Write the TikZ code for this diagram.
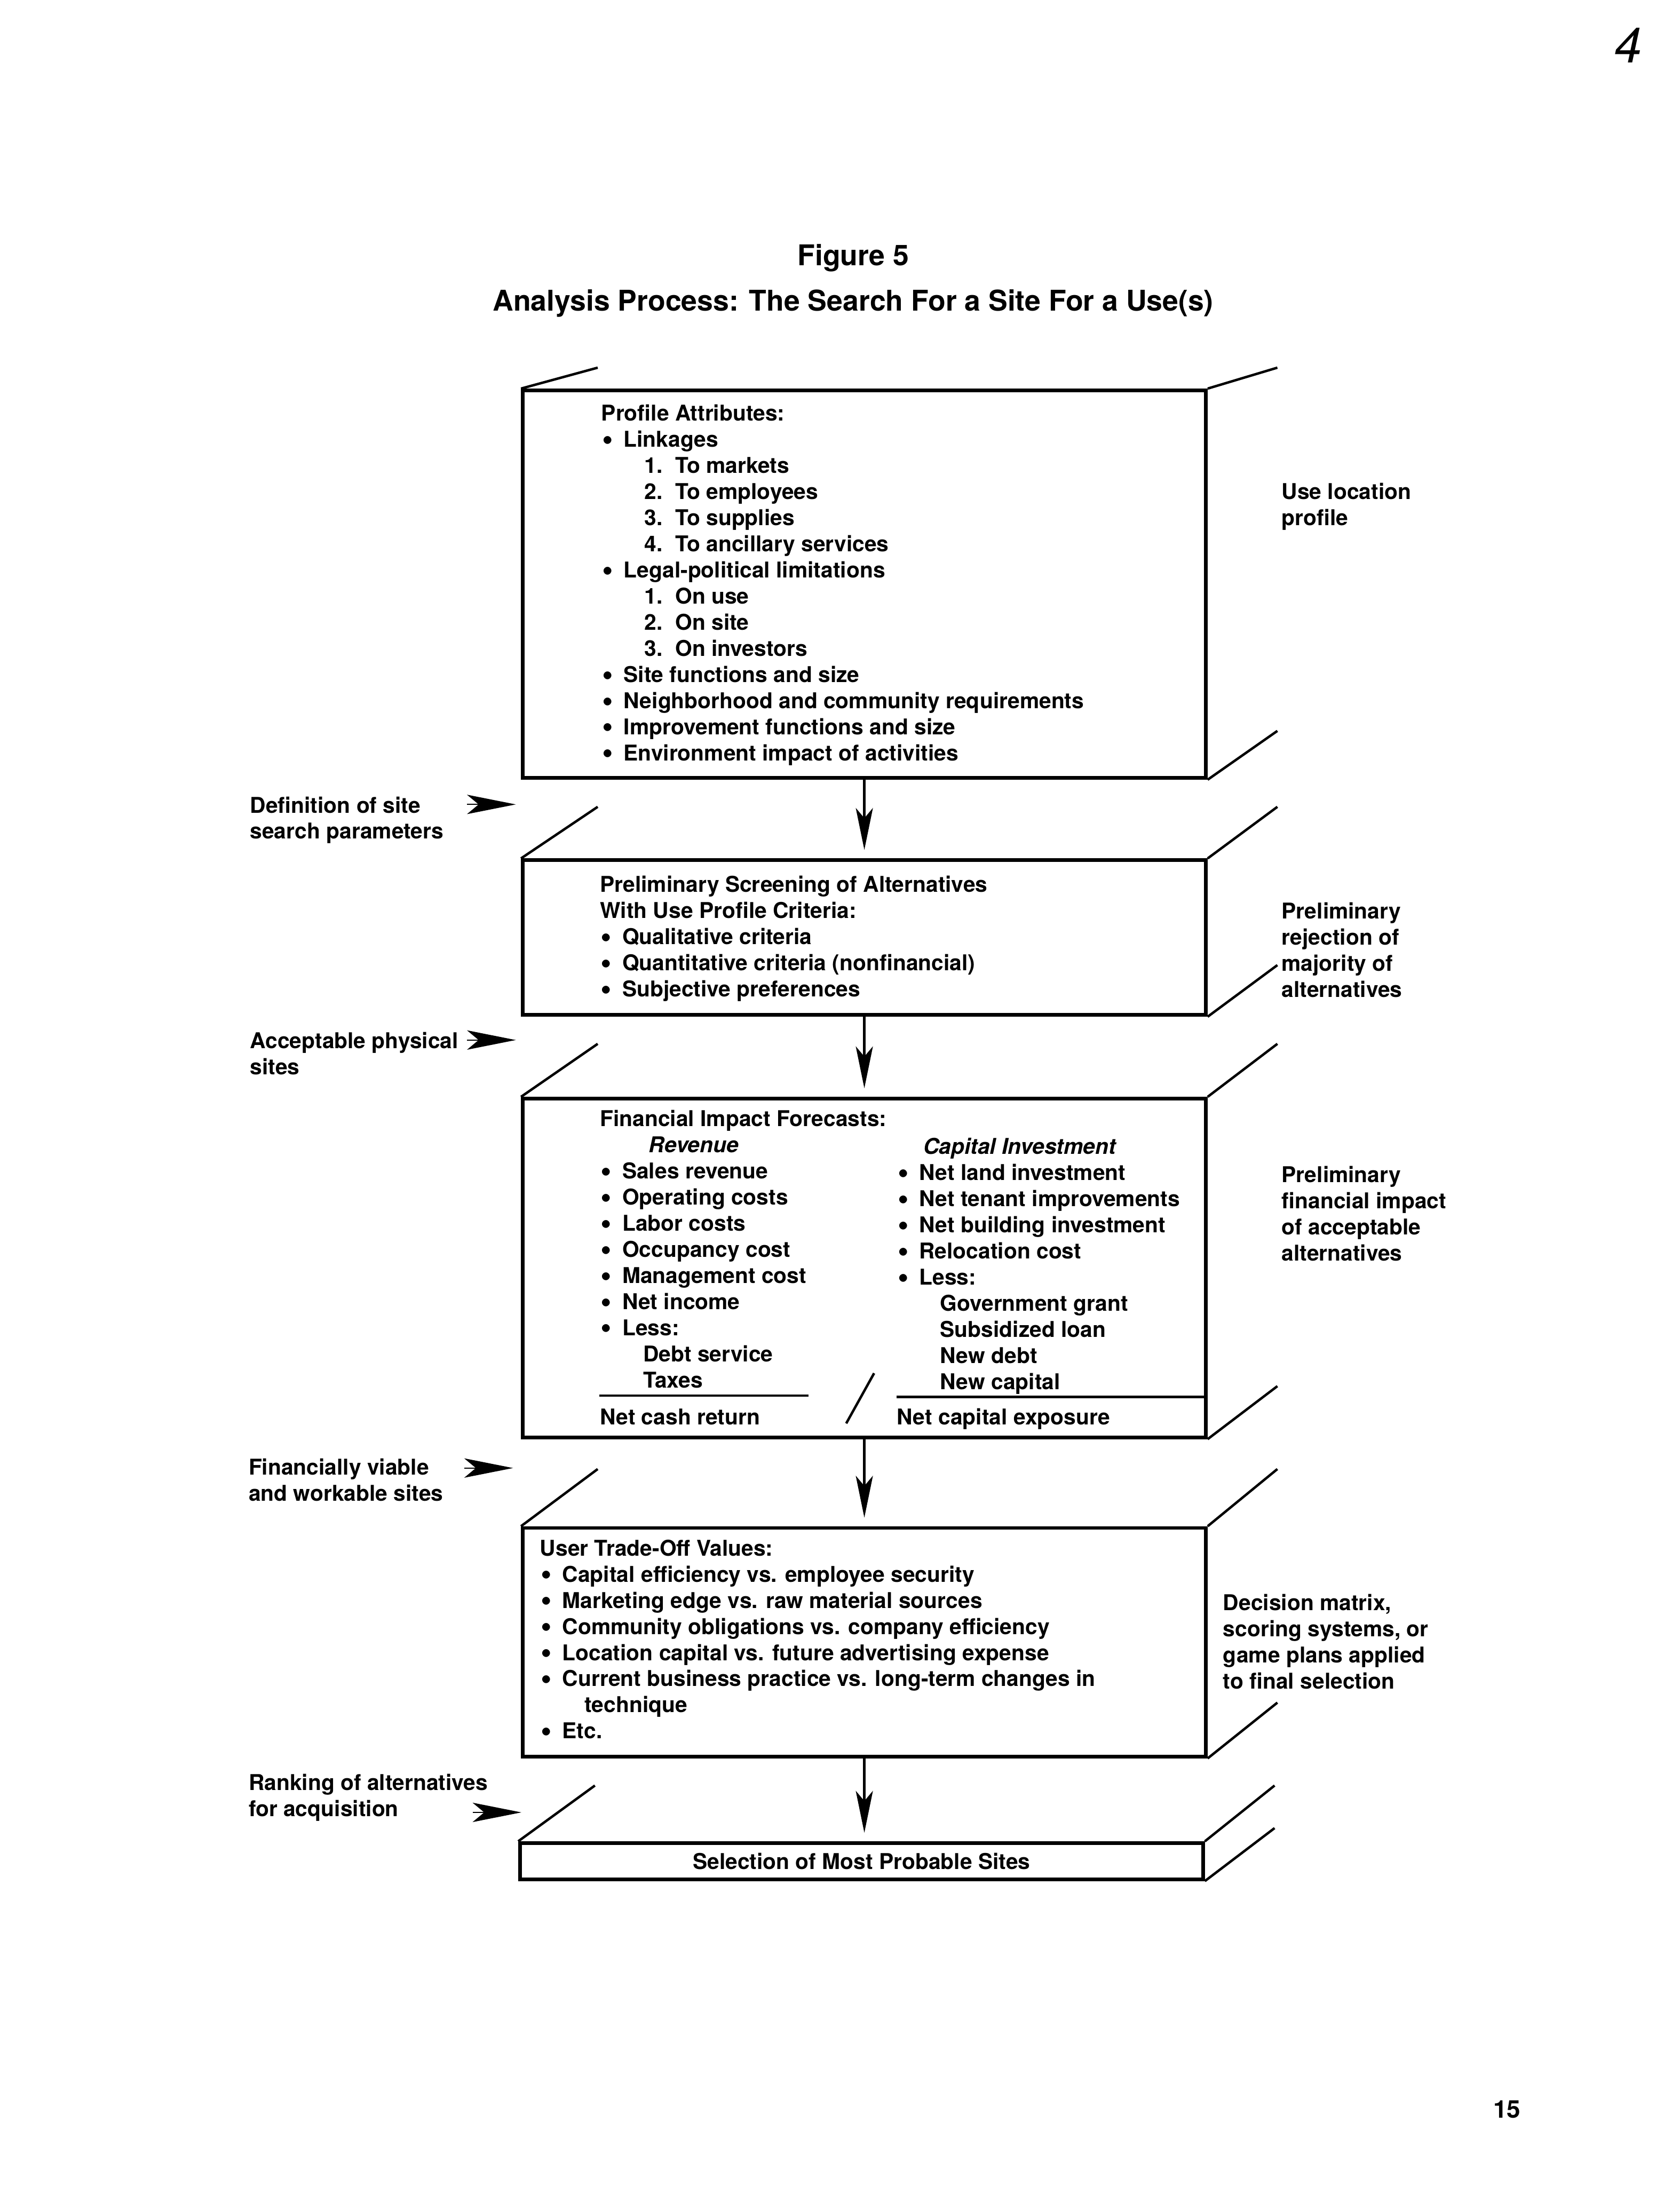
\documentclass[tikz,border=0pt]{standalone}
\usepackage{fontspec}
\setmainfont{TeX Gyre Heros}
\usetikzlibrary{arrows.meta}
\newlength\pu
\setlength\pu{0.018cm}
\newcommand\bul{\makebox[16\pu][l]{\hspace{0.5\pu}\raisebox{-0.9pt}{\fontsize{11.5}{9.6}\selectfont\textbullet}}}
\newcommand\ind[1][31]{\hspace*{#1\pu}}
\newcommand\nr[1]{\hspace*{31\pu}\makebox[22\pu][l]{#1}}
\begin{document}
\begin{tikzpicture}[x=0.018cm, y=-0.018cm,
  box/.style={draw, line width=1.3pt, rectangle, inner sep=0pt, minimum width=490*\pu},
  edge/.style={line width=0.9pt},
  flow/.style={line width=1pt, -{Stealth[length=0.54cm, width=0.22cm, inset=0.13cm]}, shorten >=0.11cm},
  pointer/.style={-{Stealth[length=0.63cm, width=0.25cm, inset=0.15cm]}},
  txt/.style={anchor=north west, inner sep=0pt, align=left, font=\fontsize{8}{9.6}\selectfont\bfseries},
  ttl/.style={anchor=base, inner sep=0pt, font=\fontsize{10.5}{12}\selectfont\bfseries}]
  \useasboundingbox (0,0) rectangle (1205,1568);
  % Heading
  \node[ttl] (fig) at (612,190.5) {Figure 5};
  \node[ttl] (head) at (612,223) {Analysis Process: The Search For a Site For a Use(s)};
  \node[anchor=base, inner sep=0pt, font=\fontsize{9}{11}\selectfont\bfseries] (page) at (1081,1519) {15};
  \node[anchor=base, inner sep=0pt, font=\fontsize{18}{20}\selectfont\itshape] (hand) at (1168,45) {4};
  % Boxes, front faces
  \node[box, minimum height=278*\pu] (b1) at (620,419) {};
  \node[box, minimum height=111*\pu] (b2) at (620,672.5) {};
  \node[box, minimum height=243*\pu] (b3) at (620,909.5) {};
  \node[box, minimum height=164*\pu] (b4) at (620,1178) {};
  \node[box, minimum height=26*\pu, font=\fontsize{8}{9.6}\selectfont\bfseries] (b5) at (618,1335) {Selection of Most Probable Sites};
  % Receding edges
  \foreach \b/\dt/\db in {b1/15/35, b2/37/37, b3/38/38, b4/41/40, b5/40/38}
    \draw[edge] (\b.north west) -- ++(55,-\dt) (\b.north east) -- ++(50,-\dt) (\b.south east) -- ++(50,-\db);
  % Flow between steps
  \draw[flow] (b1.south) -- (b2.north);
  \draw[flow] (b2.south) -- (b3.north);
  \draw[flow] (b3.south) -- (b4.north);
  \draw[flow] (b4.south) -- (b4.south |- b5.north);
  % Box 1
  \node[txt] (t1) at (431,290) {Profile Attributes:\\
    \bul Linkages\\
    \nr{1.}To markets\\
    \nr{2.}To employees\\
    \nr{3.}To supplies\\
    \nr{4.}To ancillary services\\
    \bul Legal-political limitations\\
    \nr{1.}On use\\
    \nr{2.}On site\\
    \nr{3.}On investors\\
    \bul Site functions and size\\
    \bul Neighborhood and community requirements\\
    \bul Improvement functions and size\\
    \bul Environment impact of activities};
  % Box 2
  \node[txt] (t2) at (430,628) {Preliminary Screening of Alternatives\\
    With Use Profile Criteria:\\
    \bul Qualitative criteria\\
    \bul Quantitative criteria (nonfinancial)\\
    \bul Subjective preferences};
  % Box 3, two columns
  \node[txt] (t3a) at (430,796) {Financial Impact Forecasts:\\
    \ind[35]\textit{Revenue}\\
    \bul Sales revenue\\
    \bul Operating costs\\
    \bul Labor costs\\
    \bul Occupancy cost\\
    \bul Management cost\\
    \bul Net income\\
    \bul Less:\\
    \ind Debt service\\
    \ind Taxes};
  \node[txt] (t3b) at (643,816) {\ind[19]\textit{Capital Investment}\\
    \bul Net land investment\\
    \bul Net tenant improvements\\
    \bul Net building investment\\
    \bul Relocation cost\\
    \bul Less:\\
    \ind Government grant\\
    \ind Subsidized loan\\
    \ind New debt\\
    \ind New capital};
  \draw[edge] (430,1001) -- (580,1001);
  \draw[edge] (643,1002) -- (865,1002);
  \draw[edge] (627,985) -- (607,1021);
  \node[txt] (t3c) at (430,1010) {Net cash return};
  \node[txt] (t3d) at (643,1010) {Net capital exposure};
  % Box 4
  \node[txt] (t4) at (387,1104) {User Trade-Off Values:\\
    \bul Capital efficiency vs. employee security\\
    \bul Marketing edge vs. raw material sources\\
    \bul Community obligations vs. company efficiency\\
    \bul Location capital vs. future advertising expense\\
    \bul Current business practice vs. long-term changes in\\
    \ind[32]technique\\
    \bul Etc.};
  % Right-hand notes
  \node[txt] (r1) at (919,346) {Use location\\profile};
  \node[txt] (r2) at (919,647) {Preliminary\\rejection of\\majority of\\alternatives};
  \node[txt] (r3) at (919,836) {Preliminary\\financial impact\\of acceptable\\alternatives};
  \node[txt] (r4) at (877,1143) {Decision matrix,\\scoring systems, or\\game plans applied\\to final selection};
  % Left-hand outcomes with pointers
  \node[txt] (l1) at (179,571) {Definition of site\\search parameters};
  \node[txt] (l2) at (179,740) {Acceptable physical\\sites};
  \node[txt] (l3) at (178,1046) {Financially viable\\and workable sites};
  \node[txt] (l4) at (178,1272) {Ranking of alternatives\\for acquisition};
  \coordinate (m1) at (335,577);
  \coordinate (m2) at (335,746);
  \coordinate (m3) at (333,1053);
  \coordinate (m4) at (339,1300);
  \foreach \m in {m1,m2,m3,m4}
    \draw[pointer] (\m) -- ++(35,0);
\end{tikzpicture}
\end{document}
